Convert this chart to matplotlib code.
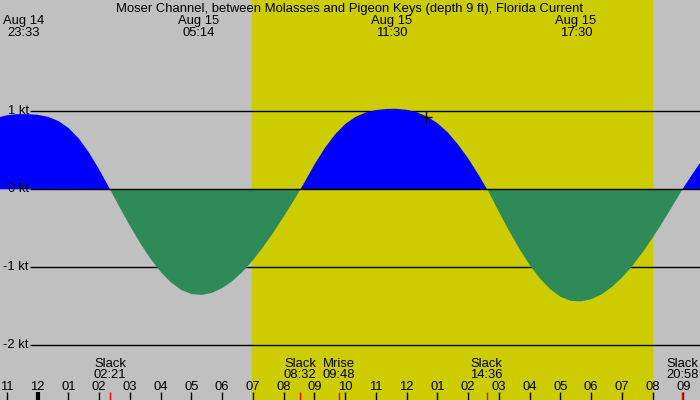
import matplotlib.pyplot as plt

plt.rcParams['font.family'] = ['Liberation Sans', 'DejaVu Sans']

title = "Moser Channel, between Molasses and Pigeon Keys (depth 9 ft), Florida Current"

# current every 20 minutes: "day hh:mm" and knots
sample_times = ["14 22:40", "14 23:00", "14 23:20", "14 23:40",
                "15 00:00", "15 00:20", "15 00:40", "15 01:00", "15 01:20", "15 01:40",
                "15 02:00", "15 02:20", "15 02:40", "15 03:00", "15 03:20", "15 03:40",
                "15 04:00", "15 04:20", "15 04:40", "15 05:00", "15 05:20", "15 05:40",
                "15 06:00", "15 06:20", "15 06:40", "15 07:00", "15 07:20", "15 07:40",
                "15 08:00", "15 08:20", "15 08:40", "15 09:00", "15 09:20", "15 09:40",
                "15 10:00", "15 10:20", "15 10:40", "15 11:00", "15 11:20", "15 11:40",
                "15 12:00", "15 12:20", "15 12:40", "15 13:00", "15 13:20", "15 13:40",
                "15 14:00", "15 14:20", "15 14:40", "15 15:00", "15 15:20", "15 15:40",
                "15 16:00", "15 16:20", "15 16:40", "15 17:00", "15 17:20", "15 17:40",
                "15 18:00", "15 18:20", "15 18:40", "15 19:00", "15 19:20", "15 19:40",
                "15 20:00", "15 20:20", "15 20:40", "15 21:00", "15 21:20", "15 21:40"]
sample_knots = [0.917, 0.949, 0.963, 0.964,
                0.955, 0.929, 0.876, 0.786, 0.652, 0.470,
                0.251, 0.012, -0.233, -0.470, -0.692, -0.891,
                -1.060, -1.195, -1.291, -1.344, -1.354, -1.327,
                -1.267, -1.175, -1.055, -0.908, -0.738, -0.551,
                -0.349, -0.139, 0.084, 0.318, 0.528, 0.703,
                0.837, 0.928, 0.985, 1.016, 1.030, 1.032,
                1.019, 0.988, 0.932, 0.847, 0.729, 0.575,
                0.394, 0.187, -0.036, -0.291, -0.537, -0.766,
                -0.971, -1.144, -1.281, -1.378, -1.430, -1.438,
                -1.409, -1.348, -1.254, -1.132, -0.983, -0.810,
                -0.619, -0.414, -0.198, 0.022, 0.220, 0.410]

# max/min current labels at the top
peak_days = ["Aug 14", "Aug 15", "Aug 15", "Aug 15"]
peak_times = ["14 23:33", "15 05:14", "15 11:30", "15 17:30"]

# events at the bottom
event_names = ["Slack", "Slack", "Mrise", "Slack", "Slack"]
event_times = ["15 02:21", "15 08:32", "15 09:48", "15 14:36", "15 20:58"]

hour_labels = ["11", "12", "01", "02", "03", "04", "05", "06", "07", "08", "09", "10",
               "11", "12", "01", "02", "03", "04", "05", "06", "07", "08", "09"]
sunrise = "15 06:58"
sunset = "15 19:58"
marker_time, marker_knots = "15 12:38", 0.93
levels = [1, 0, -1, -2]


def hrs(s):
    day, hm = s.split()
    h, m = hm.split(":")
    return (int(day) - 14) * 24 + int(h) + int(m) / 60


t = [hrs(s) for s in sample_times]
v = sample_knots
fs = 9.4

fig = plt.figure(figsize=(7, 4), dpi=100)
ax = fig.add_axes([0, 0, 1, 1])
ax.set_facecolor('#c0c0c0')
for sp in ax.spines.values():
    sp.set_visible(False)
ax.set_xticks([])
ax.set_yticks([])
ax.set_xlim(22.7724, 45.5366)
ax.set_ylim(-2.7013, 2.4269)

ax.axvspan(hrs(sunrise), hrs(sunset), color='#cccc00', zorder=0)

ytr = ax.get_yaxis_transform()
xtr = ax.get_xaxis_transform()
for lv in levels:
    ax.hlines(lv, 30 / 700, 1, transform=ytr, color='black', lw=1,
              zorder=3 if lv == 0 else 1)
    ax.text(28.5 / 700, lv, f"{lv} kt", transform=ytr, ha='right', va='center', fontsize=fs)

ax.fill_between(t, v, 0, where=[x >= 0 for x in v], interpolate=True,
                color='#0000ff', lw=0, zorder=2)
ax.fill_between(t, v, 0, where=[x <= 0 for x in v], interpolate=True,
                color='#2e8b57', lw=0, zorder=2)
ax.plot(hrs(marker_time), marker_knots, marker='+', color='black', ms=9, mew=1, zorder=4)

ax.text(0.5, 1 - 12 / 400, title, transform=ax.transAxes, ha='center', va='baseline',
        fontsize=fs)
for d, s in zip(peak_days, peak_times):
    ax.text(hrs(s), 1 - 24.3 / 400, d, transform=xtr, ha='center', va='baseline', fontsize=fs)
    ax.text(hrs(s), 1 - 36 / 400, s.split()[1], transform=xtr, ha='center', va='baseline',
            fontsize=fs)

for name, s in zip(event_names, event_times):
    ax.text(hrs(s), 1 - 366.7 / 400, name, transform=xtr, ha='center', va='baseline',
            fontsize=fs)
    ax.text(hrs(s), 1 - 378 / 400, s.split()[1], transform=xtr, ha='center', va='baseline',
            fontsize=fs)

hours = list(range(23, 23 + len(hour_labels)))
for h, lab in zip(hours, hour_labels):
    ax.vlines(h, 0, 8.3 / 400, transform=xtr, color='black', lw=3 if h == 24 else 1, zorder=5)
    ax.text(h, 1 - 390 / 400, lab, transform=xtr, ha='center', va='baseline', fontsize=fs)
ax.vlines([hrs(s) for s in event_times], 0, 8.3 / 400, transform=xtr, color='red', lw=1,
          zorder=6)

fig.savefig("out.png", dpi=100)
